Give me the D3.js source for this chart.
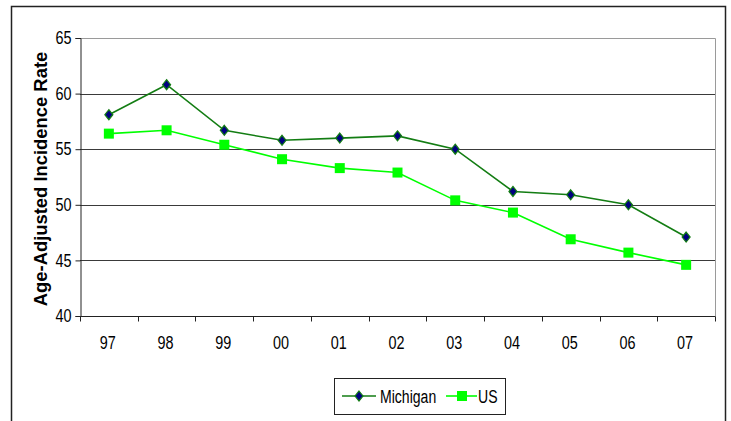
<!DOCTYPE html>
<html>
<head>
<meta charset="utf-8">
<script src="https://cdn.jsdelivr.net/npm/d3@7"></script>
<style>
  html, body { margin: 0; padding: 0; background: #fff; }
  svg { display: block; }
  .lbl { font-family: "Liberation Sans", Arial, sans-serif; }
</style>
</head>
<body>
<svg id="chart" width="731" height="421"></svg>
<script>
// Age-adjusted incidence rate, Michigan vs US, 1997–2007
const years = ["97", "98", "99", "00", "01", "02", "03", "04", "05", "06", "07"];
const michigan = [58.1, 60.8, 56.7, 55.8, 56.0, 56.2, 55.0, 51.2, 50.9, 50.0, 47.1];
const us = [56.4, 56.7, 55.4, 54.1, 53.3, 52.9, 50.4, 49.3, 46.9, 45.7, 44.6];
const yTicks = [40, 45, 50, 55, 60, 65];
const seriesNames = ["Michigan", "US"];

const svg = d3.select("#chart");
const plot = { left: 80, top: 38, right: 715, bottom: 316 };

// squeeze text horizontally to a narrow face
function narrow(sel, k) {
  sel.each(function () {
    const w = this.getComputedTextLength();
    d3.select(this).attr("textLength", w * k).attr("lengthAdjust", "spacingAndGlyphs");
  });
}

// outer chart frame (runs off the bottom edge)
svg.append("rect")
  .attr("x", 11.5).attr("y", 6.5)
  .attr("width", 714).attr("height", 430)
  .attr("fill", "none").attr("stroke", "#222").attr("stroke-width", 1.5);

const x = d3.scaleBand().domain(years).range([plot.left, plot.right]).padding(0);
const y = d3.scaleLinear().domain([40, 65]).range([plot.bottom, plot.top]);

// gridlines
svg.append("g").selectAll("line")
  .data(yTicks.filter(t => t > 40 && t < 65))
  .join("line")
  .attr("x1", plot.left).attr("x2", plot.right)
  .attr("y1", d => Math.round(y(d)) + 0.5).attr("y2", d => Math.round(y(d)) + 0.5)
  .attr("stroke", "#3a3a3a").attr("stroke-width", 1);

// plot frame: top and right in grey
svg.append("path")
  .attr("d", `M${plot.left},${plot.top + 0.5}H${plot.right + 0.5}V${plot.bottom}`)
  .attr("fill", "none").attr("stroke", "#9a9a9a").attr("stroke-width", 1);

// y axis
const yAxis = svg.append("g")
  .attr("transform", `translate(${plot.left + 0.5},0)`)
  .call(d3.axisLeft(y).tickValues(yTicks).tickSize(5).tickPadding(4));
yAxis.attr("font-family", null).attr("font-size", null);
yAxis.select(".domain").attr("stroke", "#222");
yAxis.selectAll(".tick line").attr("stroke", "#222");
yAxis.selectAll(".tick text")
  .attr("class", "lbl").attr("font-size", 18).attr("fill", "#000")
  .call(narrow, 0.8);

// x axis with ticks between categories
const xAxisG = svg.append("g").attr("transform", `translate(0,${plot.bottom + 0.5})`);
xAxisG.append("line")
  .attr("x1", plot.left).attr("x2", plot.right + 0.5)
  .attr("stroke", "#222");
const bounds = years.map(d => x(d)).concat([x(years[years.length - 1]) + x.bandwidth()]);
xAxisG.selectAll("line.tk").data(bounds).join("line").attr("class", "tk")
  .attr("x1", d => Math.round(d) + 0.5).attr("x2", d => Math.round(d) + 0.5)
  .attr("y1", 0).attr("y2", 5).attr("stroke", "#222");
xAxisG.selectAll("text").data(years).join("text")
  .attr("class", "lbl")
  .attr("x", d => x(d) + x.bandwidth() / 2 - 1)
  .attr("y", 32)
  .attr("text-anchor", "middle")
  .attr("font-size", 18)
  .text(d => d)
  .call(narrow, 0.8);

// y axis title
svg.append("text")
  .attr("transform", `translate(47,${(plot.top + plot.bottom) / 2 + 2}) rotate(-90)`)
  .attr("text-anchor", "middle")
  .attr("font-family", "'Liberation Sans', Arial, sans-serif")
  .attr("font-weight", "bold")
  .attr("font-size", 18.4)
  .text("Age-Adjusted Incidence Rate");

const line = d3.line().x((d, i) => x(years[i]) + x.bandwidth() / 2).y(d => y(d));

const styles = [
  { data: michigan, color: "#137d13", width: 1.6 },
  { data: us, color: "#00ff00", width: 1.6 }
];

styles.forEach(s => {
  svg.append("path").datum(s.data)
    .attr("d", line).attr("fill", "none")
    .attr("stroke", s.color).attr("stroke-width", s.width);
});

// markers
const diamond = (cx, cy, w, h) => `M${cx},${cy - h}L${cx + w},${cy}L${cx},${cy + h}L${cx - w},${cy}Z`;
svg.append("g").selectAll("path").data(michigan).join("path")
  .attr("d", (d, i) => diamond(x(years[i]) + x.bandwidth() / 2, y(d), 4, 5))
  .attr("fill", "#000080").attr("stroke", "#137d13").attr("stroke-width", 1.2);
svg.append("g").selectAll("rect").data(us).join("rect")
  .attr("x", (d, i) => x(years[i]) + x.bandwidth() / 2 - 5)
  .attr("y", d => y(d) - 5)
  .attr("width", 10).attr("height", 10)
  .attr("fill", "#00ff00");

// legend
const lg = svg.append("g");
lg.append("rect")
  .attr("x", 334.5).attr("y", 378.5).attr("width", 171).attr("height", 36)
  .attr("fill", "#fff").attr("stroke", "#222").attr("stroke-width", 1);
const ly = 396;
// Michigan entry
lg.append("line").attr("x1", 342).attr("x2", 376).attr("y1", ly).attr("y2", ly)
  .attr("stroke", styles[0].color).attr("stroke-width", 1.6);
lg.append("path").attr("d", diamond(359, ly, 4, 5))
  .attr("fill", "#000080").attr("stroke", styles[0].color).attr("stroke-width", 1.2);
lg.append("text").attr("class", "lbl").attr("x", 380).attr("y", ly + 6.5)
  .attr("font-size", 18).text(seriesNames[0]).call(narrow, 0.78);
// US entry
lg.append("line").attr("x1", 446).attr("x2", 477).attr("y1", ly).attr("y2", ly)
  .attr("stroke", styles[1].color).attr("stroke-width", 1.6);
lg.append("rect").attr("x", 457).attr("y", ly - 5).attr("width", 10).attr("height", 10)
  .attr("fill", "#00ff00");
lg.append("text").attr("class", "lbl").attr("x", 478).attr("y", ly + 6.5)
  .attr("font-size", 18).text(seriesNames[1]).call(narrow, 0.78);
</script>
</body>
</html>
